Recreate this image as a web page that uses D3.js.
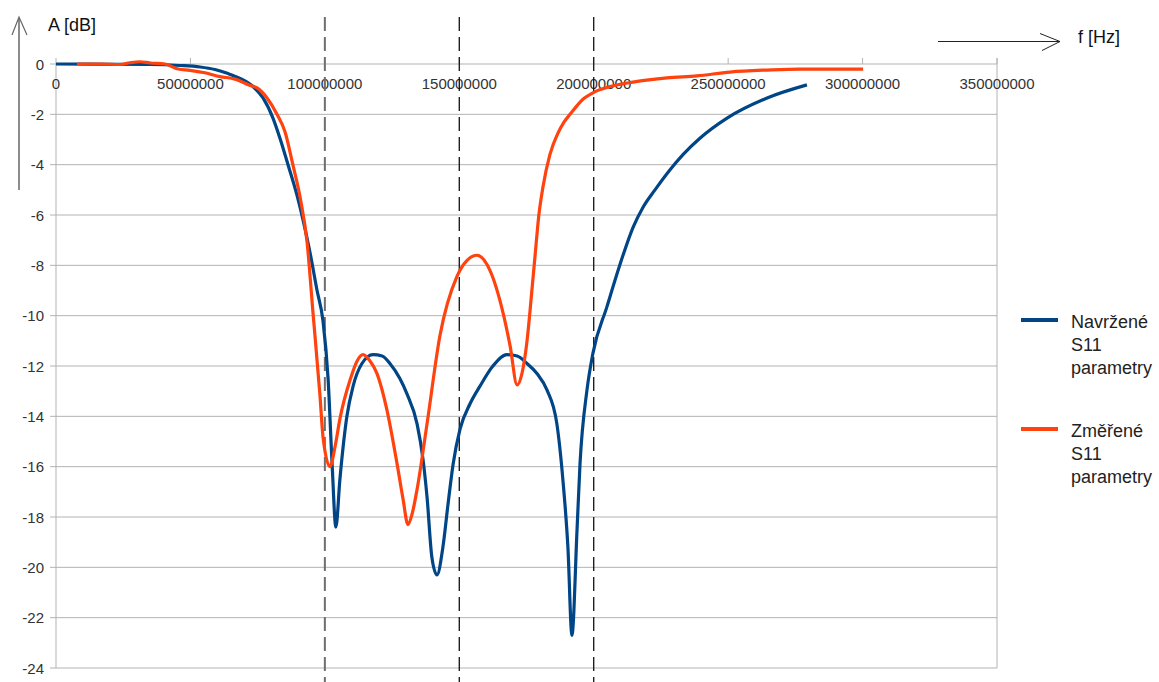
<!DOCTYPE html>
<html lang="cs">
<head>
  <meta charset="UTF-8">
  <title>S11 parametry</title>
  <script src="https://d3js.org/d3.v7.min.js"></script>
  <style>
    body { margin: 0; background: #fff; font-family: "Liberation Sans", Arial, sans-serif; }
    svg { display: block; }
    .tick-label { font-size: 15px; fill: #333; }
    .axis-title { font-size: 18px; fill: #111; }
    .legend text { font-size: 18px; fill: #222; }
  </style>
</head>
<body>
<svg id="chart" width="1159" height="682"></svg>
<script>
  // frequency in MHz, amplitude in dB
  const designedF = [0, 35, 46.1, 53.6, 59.1, 64, 68.4, 73.3, 77, 80.7, 83.3, 86.3, 89.6, 91.9, 94.5, 97.1, 99.3, 101.2, 102.7, 104.1, 105.6, 108.2, 110.5, 113.8, 117.9, 121.3, 124.2, 127.9, 130.5, 134.3, 136.5, 138, 139.8, 141.7, 143.9, 145.8, 147.7, 150.3, 154, 157.7, 162.5, 167.7, 171.5, 175.2, 178.9, 182.6, 186.3, 188.6, 190.4, 191.9, 193.8, 194.9, 197.5, 199.7, 204.9, 210.9, 214.6, 218.3, 222.8, 228.4, 233.2, 239.5, 249.6, 264.5, 279.3];
  const designedA = [0, -0.02, -0.06, -0.12, -0.22, -0.38, -0.57, -0.9, -1.35, -2.15, -2.95, -4.0, -5.2, -6.2, -7.5, -9.0, -10.2, -12.5, -15.9, -18.4, -16.5, -14, -12.8, -11.9, -11.55, -11.6, -11.9, -12.5, -13.1, -14.3, -15.7, -17.2, -19.6, -20.3, -19.2, -17.5, -15.9, -14.5, -13.5, -12.8, -12, -11.55, -11.6, -11.9, -12.3, -12.95, -14.3, -16.6, -19.2, -22.7, -18.5, -15.9, -12.95, -11.5, -9.65, -7.6, -6.5, -5.7, -5.0, -4.2, -3.6, -2.95, -2.15, -1.35, -0.83];

  const measuredF = [7.8, 16.4, 23.8, 27.5, 31.2, 35, 40.5, 45.4, 49.8, 55.4, 61, 66.6, 72.2, 74.8, 78.5, 82.2, 85.2, 88.1, 90.8, 93.4, 95.6, 98.2, 99.3, 101.9, 103.8, 105.6, 109.4, 112, 114.2, 116.8, 119.4, 123.1, 126.8, 129.1, 130.9, 132.4, 134.3, 138, 142.8, 149.1, 152.9, 156.6, 161.4, 166.3, 168.9, 171.5, 173.3, 175.2, 177, 178.2, 179.6, 181.1, 183.7, 186.7, 189, 191.2, 196, 200.5, 206, 214.6, 227.3, 238.4, 250.7, 264.5, 276.7, 300.2];
  const measuredA = [0, 0, -0.02, 0.05, 0.09, 0.04, 0, -0.2, -0.25, -0.35, -0.5, -0.6, -0.85, -0.95, -1.35, -2.0, -2.7, -4.0, -5.3, -7.1, -9.9, -13.2, -14.8, -16.0, -15.2, -14.1, -12.55, -11.8, -11.55, -11.8, -12.3, -13.75, -15.85, -17.3, -18.3, -17.9, -16.9, -14.3, -10.8, -8.45, -7.8, -7.6, -8.2, -9.9, -11.2, -12.75, -12.3, -11, -9.0, -7.6, -6.0, -4.9, -3.6, -2.75, -2.3, -2.0, -1.4, -1.1, -0.9, -0.72, -0.55, -0.47, -0.32, -0.24, -0.2, -0.2];

  const xTicks = [0, 50, 100, 150, 200, 250, 300, 350];
  const yTicks = d3.range(0, -25, -2);
  const markerF = [100, 150, 200];
  const seriesNames = [["Navržené", "S11", "parametry"], ["Změřené", "S11", "parametry"]];
  const seriesColors = ["#004586", "#ff420e"];

  const svg = d3.select("#chart");
  const x = d3.scaleLinear().domain([0, 350]).range([56, 997]);
  const y = d3.scaleLinear().domain([0, -24]).range([64, 668]);

  // horizontal grid
  svg.append("g").selectAll("line").data(yTicks).join("line")
    .attr("x1", 50).attr("x2", x(350))
    .attr("y1", d => y(d)).attr("y2", d => y(d))
    .attr("stroke", "#b3b3b3").attr("stroke-width", 1);

  // left axis and right border
  svg.append("line").attr("x1", x(0)).attr("x2", x(0)).attr("y1", y(0)).attr("y2", y(-24))
    .attr("stroke", "#b3b3b3");
  svg.append("line").attr("x1", x(350)).attr("x2", x(350)).attr("y1", y(0) - 6).attr("y2", y(-24))
    .attr("stroke", "#b3b3b3");

  // x ticks pointing up from the 0 dB line
  svg.append("g").selectAll("line").data(xTicks).join("line")
    .attr("x1", d => x(d)).attr("x2", d => x(d))
    .attr("y1", y(0) - 6).attr("y2", y(0))
    .attr("stroke", "#b3b3b3");

  // tick labels
  svg.append("g").selectAll("text").data(yTicks).join("text")
    .attr("class", "tick-label")
    .attr("x", 44).attr("y", d => y(d) + 5.5)
    .attr("text-anchor", "end")
    .text(d => d);
  svg.append("g").selectAll("text").data(xTicks).join("text")
    .attr("class", "tick-label")
    .attr("x", d => x(d)).attr("y", 89)
    .attr("text-anchor", "middle")
    .text(d => d3.format("d")(d * 1e6));

  // dashed markers
  svg.append("g").selectAll("line").data(markerF).join("line")
    .attr("x1", d => x(d)).attr("x2", d => x(d))
    .attr("y1", 17).attr("y2", 682)
    .attr("stroke", (d, i) => i === 0 ? "#6e6e6e" : "#111")
    .attr("stroke-width", (d, i) => i === 0 ? 2 : 1.3)
    .attr("stroke-dasharray", "14,6");

  // curves
  const line = d3.line()
    .x(d => x(d[0])).y(d => y(d[1]))
    .curve(d3.curveMonotoneX);
  const series = [
    d3.zip(designedF, designedA),
    d3.zip(measuredF, measuredA)
  ];
  svg.append("g").selectAll("path").data(series).join("path")
    .attr("d", line)
    .attr("fill", "none")
    .attr("stroke", (d, i) => seriesColors[i])
    .attr("stroke-width", 3.2)
    .attr("stroke-linejoin", "round");

  // axis arrows and titles
  svg.append("line").attr("x1", 19).attr("x2", 19).attr("y1", 18).attr("y2", 190)
    .attr("stroke", "#666").attr("stroke-width", 1.5);
  svg.append("path").attr("d", "M12,35 L19,17 L27,35")
    .attr("fill", "none").attr("stroke", "#666").attr("stroke-width", 1.2);
  svg.append("text").attr("class", "axis-title").attr("x", 48).attr("y", 31).text("A [dB]");

  svg.append("line").attr("x1", 938).attr("x2", 1060).attr("y1", 41.5).attr("y2", 41.5)
    .attr("stroke", "#222").attr("stroke-width", 1);
  svg.append("path").attr("d", "M1040,33.5 L1060,41.5 L1042,50.5")
    .attr("fill", "none").attr("stroke", "#222").attr("stroke-width", 1);
  svg.append("text").attr("class", "axis-title").attr("x", 1078).attr("y", 43).text("f [Hz]");

  // legend
  const legend = svg.append("g").attr("class", "legend");
  const legendY = [320, 429];
  seriesNames.forEach((lines, i) => {
    legend.append("line")
      .attr("x1", 1021).attr("x2", 1058)
      .attr("y1", legendY[i]).attr("y2", legendY[i])
      .attr("stroke", seriesColors[i]).attr("stroke-width", 4);
    legend.append("g").selectAll("text").data(lines).join("text")
      .attr("x", 1071).attr("y", (d, j) => legendY[i] + 8 + j * 23)
      .text(d => d);
  });
</script>
</body>
</html>
